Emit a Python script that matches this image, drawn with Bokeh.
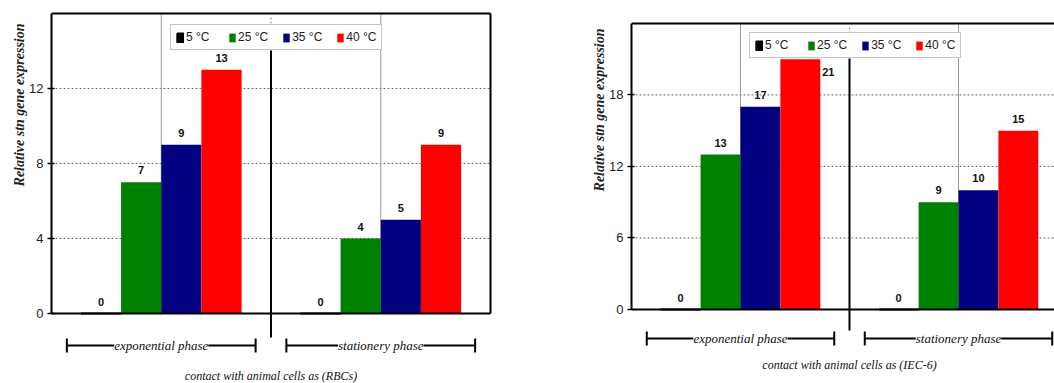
import math
from bokeh.plotting import figure
from bokeh.models import (ColumnDataSource, Legend, LegendItem, Label, FixedTicker, Range1d, Title)
from bokeh.layouts import row
from bokeh.embed import file_html
from bokeh.resources import INLINE
from bokeh.core.properties import value

# ---------------- data ----------------
phases = ["exponential phase", "stationery phase"]
temps = ["5 °C", "25 °C", "35 °C", "40 °C"]
colors = ["#000000", "#008000", "#000080", "#FF0000"]

rbc_5 = [0, 0]
rbc_25 = [7, 4]
rbc_35 = [9, 5]
rbc_40 = [13, 9]

iec_5 = [0, 0]
iec_25 = [13, 9]
iec_35 = [17, 10]
iec_40 = [21, 15]

rbc_ticks = [0, 4, 8, 12]
iec_ticks = [0, 6, 12, 18]

rbc_xlabel = "contact with animal cells as (RBCs)"
iec_xlabel = "contact with animal cells as (IEC-6)"
ylabel = "Relative stn gene expression"

SERIF = "Liberation Serif"
SANS = "Liberation Sans"

PAGE_H = 383


def make_chart(series, ticks, ymax, fig_left, fig_w, frame_left, zero_px, unit_px, cat_px,
               legend_left, legend_bottom, ylab_top, div_bottom_px, dot_top_px, dot_bot_px,
               bracket_px, xlabel, xlabel_px, special_offsets):
    H = PAGE_H
    page_top, page_bottom = 0, H
    fig_right = fig_left + fig_w

    def yd(py):
        return (zero_px - py) / unit_px

    def xd(px):
        return (px - frame_left) / cat_px

    p = figure(width=fig_w, height=H, output_backend="svg", toolbar_location=None,
               x_axis_location=None,
               x_range=Range1d(0, xd(fig_right)), y_range=Range1d(yd(page_bottom), yd(page_top)),
               min_border_left=frame_left - fig_left, min_border_right=0,
               min_border_top=0, min_border_bottom=0)
    p.outline_line_color = None
    p.xgrid.visible = False
    p.ygrid.visible = False
    p.background_fill_color = "white"
    p.border_fill_color = "white"

    right_edge = 2.0
    gl = [t for t in ticks if t > 0]
    p.segment(x0=[0] * len(gl), x1=[right_edge] * len(gl), y0=gl, y1=gl,
              line_color="#6e6e6e", line_width=1, line_dash="2 2")
    p.segment(x0=[0.5, 1.5], x1=[0.5, 1.5], y0=[0, 0], y1=[ymax, ymax],
              line_color="#9a9a9a", line_width=1)

    bw = 0.183
    centers = [i + 0.5 for i in range(len(phases))]
    renderers = []
    lab_x, lab_y, lab_t, lab_dx, lab_dy = [], [], [], [], []
    for k, (vals, col) in enumerate(zip(series, colors)):
        off = (k - 1.5) * bw
        xs = [c + off for c in centers]
        src = ColumnDataSource(dict(x=xs, top=vals))
        r = p.vbar(x="x", top="top", bottom=0, width=bw, source=src,
                   fill_color=col, line_color=col if k == 0 else None,
                   line_width=2 if k == 0 else 0)
        renderers.append(r)
        for j, v in enumerate(vals):
            lab_x.append(xs[j])
            lab_y.append(v)
            lab_t.append(str(v))
            dx, dy = special_offsets.get((k, j), (0, -12))
            lab_dx.append(dx)
            lab_dy.append(dy)
    lsrc = ColumnDataSource(dict(x=lab_x, y=lab_y, t=lab_t, dx=lab_dx, dy=lab_dy))
    p.text(x="x", y="y", text="t", source=lsrc, x_offset="dx", y_offset="dy",
           text_align="center", text_baseline="middle",
           text_font=value(SANS), text_font_style="bold", text_font_size="11px",
           text_color="#111111")

    p.segment(x0=[0, 0], x1=[right_edge, right_edge], y0=[0, ymax], y1=[0, ymax],
              line_color="black", line_width=2)
    p.segment(x0=[right_edge], x1=[right_edge], y0=[0], y1=[ymax],
              line_color="black", line_width=2)

    p.segment(x0=[1], x1=[1], y0=[yd(div_bottom_px)], y1=[yd(legend_bottom)],
              line_color="black", line_width=2)
    p.segment(x0=[1], x1=[1], y0=[yd(dot_bot_px)], y1=[yd(dot_top_px)],
              line_color="#888888", line_width=1, line_dash="2 2")

    by = yd(bracket_px)
    th = 7 / unit_px
    hw = 0.43
    for c, ph in zip(centers, phases):
        p.segment(x0=[c - hw], x1=[c + hw], y0=[by], y1=[by], line_color="black", line_width=2)
        p.segment(x0=[c - hw, c + hw], x1=[c - hw, c + hw], y0=[by - th, by - th],
                  y1=[by + th, by + th], line_color="black", line_width=2)
        p.add_layout(Label(x=c, y=by, text=ph, text_align="center", text_baseline="middle",
                           text_font=SERIF, text_font_style="italic", text_font_size="13px",
                           text_color="#111111", background_fill_color="white",
                           background_fill_alpha=1.0))

    p.add_layout(Label(x=1, y=yd(xlabel_px), text=xlabel, text_align="center",
                       text_baseline="middle", text_font=SERIF, text_font_style="italic",
                       text_font_size="12px", text_color="#111111"))

    # y label as a side title, aligned towards the top
    p.add_layout(Title(text=ylabel, align="right", offset=ylab_top, standoff=0,
                       text_font=SERIF, text_font_style="bold italic", text_font_size="14px",
                       text_color="#222222"), "left")

    ax = p.yaxis[0]
    ax.ticker = FixedTicker(ticks=ticks)
    ax.bounds = (0, ymax)
    ax.axis_line_color = "black"
    ax.axis_line_width = 2
    ax.major_tick_in = 3
    ax.major_tick_out = 4
    ax.major_tick_line_color = "black"
    ax.major_tick_line_width = 1.5
    ax.minor_tick_line_color = None
    ax.major_label_standoff = 4
    ax.major_label_text_font = SANS
    ax.major_label_text_font_size = "13px"
    ax.major_label_text_color = "#222222"

    items = [LegendItem(label=t, renderers=[r]) for t, r in zip(temps, renderers)]
    leg = Legend(items=items, orientation="horizontal",
                 location=(legend_left - frame_left, page_bottom - legend_bottom),
                 padding=5, spacing=14, margin=0, label_standoff=2,
                 glyph_width=8, glyph_height=11, label_width=28, label_height=13,
                 label_text_font=SANS, label_text_font_size="12px",
                 label_text_color="#222222",
                 border_line_color="#8a8a8a", border_line_width=1.5,
                 background_fill_color="white", background_fill_alpha=1.0)
    p.add_layout(leg)
    return p


left = make_chart([rbc_5, rbc_25, rbc_35, rbc_40], rbc_ticks, 16,
                  fig_left=0, fig_w=545, frame_left=51, zero_px=313, unit_px=18.75, cat_px=219.5,
                  legend_left=170, legend_bottom=50, ylab_top=23,
                  div_bottom_px=337, dot_top_px=16, dot_bot_px=27, bracket_px=345,
                  xlabel=rbc_xlabel, xlabel_px=375, special_offsets={})

right = make_chart([iec_5, iec_25, iec_35, iec_40], iec_ticks, 24,
                   fig_left=545, fig_w=509, frame_left=631, zero_px=309, unit_px=11.92, cat_px=218,
                   legend_left=749, legend_bottom=58, ylab_top=28,
                   div_bottom_px=330, dot_top_px=25, dot_bot_px=37, bracket_px=338,
                   xlabel=iec_xlabel, xlabel_px=364, special_offsets={(3, 0): (28, 13)})

layout = row(left, right, spacing=0)
open("out.html", "w").write(file_html(layout, INLINE))
